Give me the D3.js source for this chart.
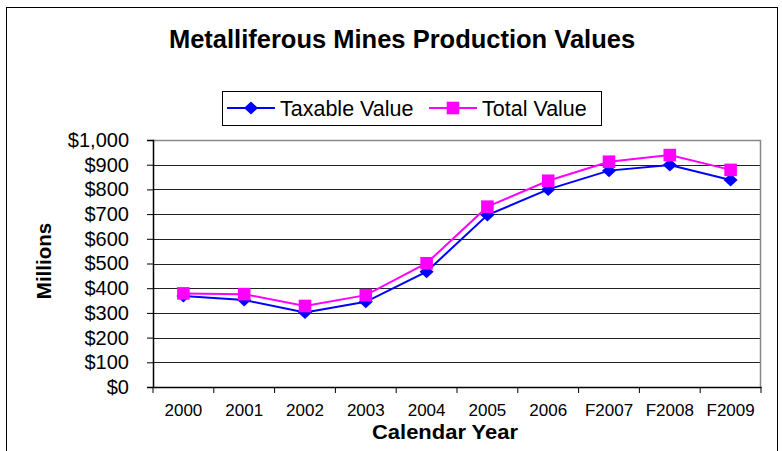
<!DOCTYPE html>
<html>
<head>
<meta charset="utf-8">
<script src="https://cdn.jsdelivr.net/npm/d3@7"></script>
<style>
  body { margin: 0; background: #fff; }
  text { font-family: "Liberation Sans", Arial, sans-serif; }
</style>
</head>
<body>
<div id="chart"></div>
<script>
// values, in millions
const years = ["2000", "2001", "2002", "2003", "2004", "2005", "2006", "F2007", "F2008", "F2009"];
const taxableValue = [368, 352, 302, 345, 467, 696, 800, 876, 899, 838];
const totalValue = [379, 376, 328, 372, 501, 730, 835, 912, 939, 879];
const yTicks = [0, 100, 200, 300, 400, 500, 600, 700, 800, 900, 1000];

const W = 782, H = 451;
const margin = {top: 140, right: 21, bottom: 64, left: 153};
const width = W - margin.left - margin.right,
    height = H - margin.top - margin.bottom;

const svg = d3.select("#chart").append("svg")
    .attr("width", W)
    .attr("height", H);

// outer frame
svg.append("rect")
    .attr("x", 6.5).attr("y", 7.5)
    .attr("width", 771).attr("height", 460)
    .attr("fill", "none")
    .attr("stroke", "#000")
    .attr("stroke-width", 1);

svg.append("text")
    .attr("x", 402).attr("y", 48)
    .attr("text-anchor", "middle")
    .attr("font-size", 25.5)
    .attr("font-weight", "bold")
    .text("Metalliferous Mines Production Values");

const g = svg.append("g")
    .attr("transform", "translate(" + margin.left + "," + margin.top + ")");

const x = d3.scaleBand().domain(years).range([0, width]);
const y = d3.scaleLinear().domain([0, 1000]).range([height, 0]);

// gridlines
g.selectAll(".grid")
    .data(yTicks.filter(d => d > 0 && d < 1000))
    .enter()
    .append("line")
    .attr("x1", 0).attr("x2", width)
    .attr("y1", d => Math.round(y(d)) + 0.5)
    .attr("y2", d => Math.round(y(d)) + 0.5)
    .attr("stroke", "#222")
    .attr("stroke-width", 1);

// plot border top/right in grey
g.append("path")
    .attr("d", "M0,0.5H" + (width - 0.5) + "V" + height)
    .attr("fill", "none")
    .attr("stroke", "#888")
    .attr("stroke-width", 1.5);

// y axis
const yAxis = g.append("g")
    .call(d3.axisLeft(y).tickValues(yTicks).tickSize(6).tickPadding(18)
        .tickFormat(d => "$" + d3.format(",")(d)));
yAxis.select(".domain").attr("stroke-width", 1.5);
yAxis.selectAll("text").attr("font-size", 20).attr("font-family", "Liberation Sans, Arial, sans-serif").attr("fill", "#000");

// x axis
const xAxis = g.append("g")
    .attr("transform", "translate(0," + height + ")")
    .call(d3.axisBottom(x).tickSize(0).tickPadding(17));
xAxis.select(".domain").attr("stroke-width", 1.5);
xAxis.selectAll("text").attr("font-size", 17).attr("font-family", "Liberation Sans, Arial, sans-serif").attr("fill", "#000");

// category boundary ticks
g.append("g")
    .selectAll("line")
    .data(years.concat(["end"]))
    .enter()
    .append("line")
    .attr("x1", (d, i) => i * x.step())
    .attr("x2", (d, i) => i * x.step())
    .attr("y1", height)
    .attr("y2", height + 6)
    .attr("stroke", "#000");

svg.append("text")
    .attr("x", 445).attr("y", 439)
    .attr("text-anchor", "middle")
    .attr("font-size", 20)
    .attr("font-weight", "bold")
    .attr("textLength", 146)
    .attr("lengthAdjust", "spacingAndGlyphs")
    .text("Calendar Year");

svg.append("text")
    .attr("transform", "translate(51,261) rotate(-90)")
    .attr("text-anchor", "middle")
    .attr("font-size", 20.5)
    .attr("font-weight", "bold")
    .text("Millions");

const cx = d => x(d) + x.bandwidth() / 2;
const line = d3.line().x(d => cx(d[0])).y(d => y(d[1]));

const diamond = "M0,-6.5L7,0L0,6.5L-7,0Z";
const square = "M-6.3,-6.3H6.3V6.3H-6.3Z";

const series = [
    {name: "Taxable Value", values: taxableValue, color: "#0000ff", shape: diamond},
    {name: "Total Value", values: totalValue, color: "#ff00ff", shape: square}
];

series.forEach(s => {
    const pts = years.map((yr, i) => [yr, s.values[i]]);
    g.append("path")
        .datum(pts)
        .attr("d", line)
        .attr("fill", "none")
        .attr("stroke", s.color)
        .attr("stroke-width", 2);
    g.selectAll(".m-" + s.name.replace(" ", ""))
        .data(pts)
        .enter()
        .append("path")
        .attr("transform", d => "translate(" + cx(d[0]) + "," + y(d[1]) + ")")
        .attr("d", s.shape)
        .attr("fill", s.color);
});

// legend
const lg = svg.append("g");
lg.append("rect")
    .attr("x", 222.5).attr("y", 91.5)
    .attr("width", 379).attr("height", 34)
    .attr("fill", "#fff")
    .attr("stroke", "#000");
const legendX = [227, 429];
series.forEach((s, i) => {
    const lx = legendX[i], ly = 108;
    lg.append("line")
        .attr("x1", lx).attr("x2", lx + 48)
        .attr("y1", ly).attr("y2", ly)
        .attr("stroke", s.color)
        .attr("stroke-width", 2);
    lg.append("path")
        .attr("transform", "translate(" + (lx + 24) + "," + ly + ")")
        .attr("d", s.shape)
        .attr("fill", s.color);
    lg.append("text")
        .attr("x", lx + 53).attr("y", ly + 7.5)
        .attr("font-size", 21.5)
        .text(s.name);
});
</script>
</body>
</html>
